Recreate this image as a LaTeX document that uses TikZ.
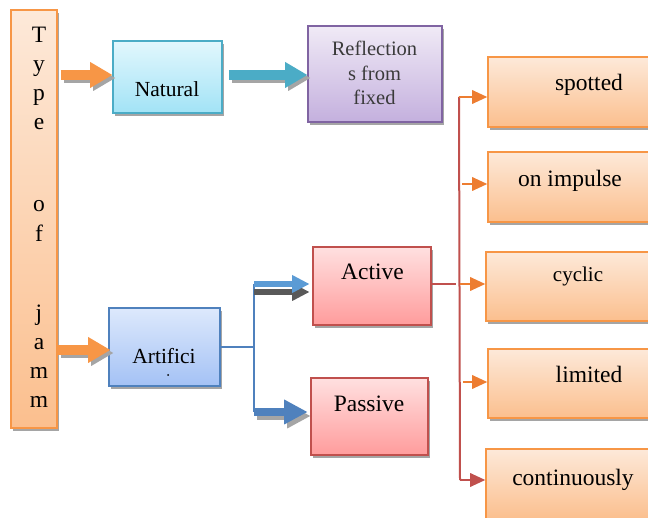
\documentclass[tikz,border=0pt]{standalone}
\usepackage{fontspec}
\setmainfont{Liberation Serif}
\usetikzlibrary{shadows,arrows.meta,calc}
\definecolor{orBd}{HTML}{F79646}
\definecolor{orTop}{HTML}{FDE9D9}
\definecolor{orBot}{HTML}{FBBF8E}
\definecolor{tlBd}{HTML}{4BACC6}
\definecolor{tlTop}{HTML}{E2F7FD}
\definecolor{tlBot}{HTML}{A2E3F6}
\definecolor{vlBd}{HTML}{8064A2}
\definecolor{vlTop}{HTML}{F0EAF6}
\definecolor{vlBot}{HTML}{C4B0DE}
\definecolor{blBd}{HTML}{4F81BD}
\definecolor{blTop}{HTML}{DDE9FC}
\definecolor{blBot}{HTML}{A4C2F5}
\definecolor{rdBd}{HTML}{C0504D}
\definecolor{rdTop}{HTML}{FFE0E0}
\definecolor{rdBot}{HTML}{FF9C9C}
\definecolor{arrOr}{HTML}{ED7D31}
\definecolor{shGray}{HTML}{A5A5A5}
\definecolor{dkGray}{HTML}{595959}
\definecolor{ltBlue}{HTML}{5B9BD5}
\definecolor{txGray}{HTML}{3A3A3A}
\tikzset{
  boxbase/.style={rectangle, line width=1.6pt, inner sep=0pt,
    drop shadow={shadow xshift=2pt, shadow yshift=-3pt, fill=shGray, opacity=1}},
  orbox/.style={boxbase, draw=orBd, top color=orTop, bottom color=orBot},
  tlbox/.style={boxbase, draw=tlBd, top color=tlTop, bottom color=tlBot},
  vlbox/.style={boxbase, draw=vlBd, top color=vlTop, bottom color=vlBot},
  blbox/.style={boxbase, draw=blBd, top color=blTop, bottom color=blBot},
  rdbox/.style={boxbase, draw=rdBd, top color=rdTop, bottom color=rdBot},
  rightbox/.style={orbox, minimum width=212pt, minimum height=70pt},
  txt/.style={anchor=base, inner sep=0pt, font=\fontsize{23.5}{28}\selectfont},
  bigarrow/.style={line width=10pt, -{Triangle[length=22pt,width=26pt,line width=0pt]}},
  midarrow/.style={line width=8pt, -{Triangle[length=23pt,width=25pt,line width=0pt]}},
  thinblock/.style={line width=6pt, -{Triangle[length=17pt,width=18pt,line width=0pt]}},
  smallarrow/.style={line width=2.5pt, arrOr, -{Triangle[length=15pt,width=14pt,line width=0pt]}},
  redline/.style={line width=2pt, rdBd},
  blueline/.style={line width=2pt, blBd},
}
\begin{document}
\begin{tikzpicture}[x=1pt,y=-1pt]
\useasboundingbox[fill=white] (0,0) rectangle (648,518);

% boxes
\node[orbox, minimum width=46pt, minimum height=418pt] (col) at (34,219) {};
\node[tlbox, minimum width=109pt, minimum height=72pt] (natural) at (167.5,77) {};
\node[vlbox, minimum width=134pt, minimum height=96pt] (refl) at (375,74) {};
\node[blbox, minimum width=111pt, minimum height=78pt] (artif) at (164.5,347) {};
\node[rdbox, minimum width=118pt, minimum height=78pt] (active) at (372,286) {};
\node[rdbox, minimum width=117pt, minimum height=77pt] (passive) at (369.5,416.5) {};
\node[rightbox] (spotted) at (594,92) {};
\node[rightbox] (impulse) at (594,187) {};
\node[rightbox, minimum height=69pt] (cyclic) at (592,286.5) {};
\node[rightbox, minimum height=69pt] (limited) at (594,383.5) {};
\node[rightbox] (cont) at (592,484) {};

% column letters
\node[txt] (l1) at (39,43) {T};
\node[txt] (l2) at (39,72) {y};
\node[txt] (l3) at (39,101) {p};
\node[txt] (l4) at (39,130) {e};
\node[txt] (l5) at (39,212) {o};
\node[txt] (l6) at (39,242) {f};
\node[txt] (l7) at (39,321) {j};
\node[txt] (l8) at (39,350) {a};
\node[txt] (l9) at (39,379) {m};
\node[txt] (l10) at (39,408) {m};

% box texts
\node[txt, font=\fontsize{21.5}{26}\selectfont] (naturalT) at (167,97) {Natural};
\node[txt, font=\fontsize{20.5}{24.5}\selectfont, text=txGray, align=center] (reflT) at (374.5,105) {Reflection\\s from\\fixed};
\node[txt, font=\fontsize{21.5}{26}\selectfont] (artifT) at (164,364) {Artifici};
\fill (168,375) circle (1pt);
\node[txt] (activeT) at (372.5,280) {Active};
\node[txt] (passiveT) at (369,412) {Passive};
\node[txt] (spottedT) at (589,91) {spotted};
\node[txt] (impulseT) at (570,187) {on impulse};
\node[txt, font=\fontsize{21}{25}\selectfont] (cyclicT) at (578,282) {cyclic};
\node[txt] (limitedT) at (589,383) {limited};
\node[txt] (contT) at (573,485) {continuously};

% block arrows with shadows
\coordinate (s1) at ($(col.east |- natural.west)+(3,-2)$);
\coordinate (e1) at ($(natural.west)+(0,-2)$);
\draw[bigarrow, shGray, transform canvas={shift={(3pt,-3pt)}}] (s1) -- (e1);
\draw[bigarrow, orBd] (s1) -- (e1);

\coordinate (s2) at ($(natural.east)+(6,-2)$);
\coordinate (e2) at ($(refl.west |- natural.east)+(0,-2)$);
\draw[bigarrow, shGray, transform canvas={shift={(3pt,-3pt)}}] (s2) -- (e2);
\draw[bigarrow, tlBd] (s2) -- (e2);

\coordinate (s3) at ($(col.east |- artif.west)+(0,3)$);
\coordinate (e3) at ($(artif.west)+(2,3)$);
\draw[bigarrow, shGray, transform canvas={shift={(3pt,-3pt)}}] (s3) -- (e3);
\draw[bigarrow, orBd] (s3) -- (e3);

% blue tree
\coordinate (bj1) at (254,284);
\coordinate (bj2) at (254,412);
\draw[blueline] (artif.east) -- (artif.east -| bj1);
\draw[blueline] (bj1) -- (bj2);
\draw[thinblock, dkGray, transform canvas={shift={(0pt,-8pt)}}] (bj1) -- ($(bj1 -| active.west)+(-3,0)$);
\draw[thinblock, ltBlue] (bj1) -- ($(bj1 -| active.west)+(-3,0)$);
\draw[midarrow, shGray, transform canvas={shift={(3pt,-4pt)}}] (bj2) -- ($(bj2 -| passive.west)+(-3,0)$);
\draw[midarrow, blBd] (bj2) -- ($(bj2 -| passive.west)+(-3,0)$);

% red tree
\coordinate (rtop) at (459,97);
\coordinate (rbot) at (460,480);
\coordinate (aj) at (456,284);
\draw[redline] (active.east |- aj) -- (aj);
\draw[redline] (rtop) -- (rbot);
\coordinate (a2) at (462,184);
\coordinate (a3) at (460,284);
\coordinate (a4) at (463,382);
\draw[smallarrow] (rtop) -- (rtop -| spotted.west);
\draw[smallarrow] (a2) -- (a2 -| impulse.west);
\draw[smallarrow] (a3) -- (a3 -| cyclic.west);
\draw[smallarrow] (a4) -- (a4 -| limited.west);
\draw[smallarrow, rdBd] (rbot) -- (rbot -| cont.west);
\end{tikzpicture}
\end{document}
